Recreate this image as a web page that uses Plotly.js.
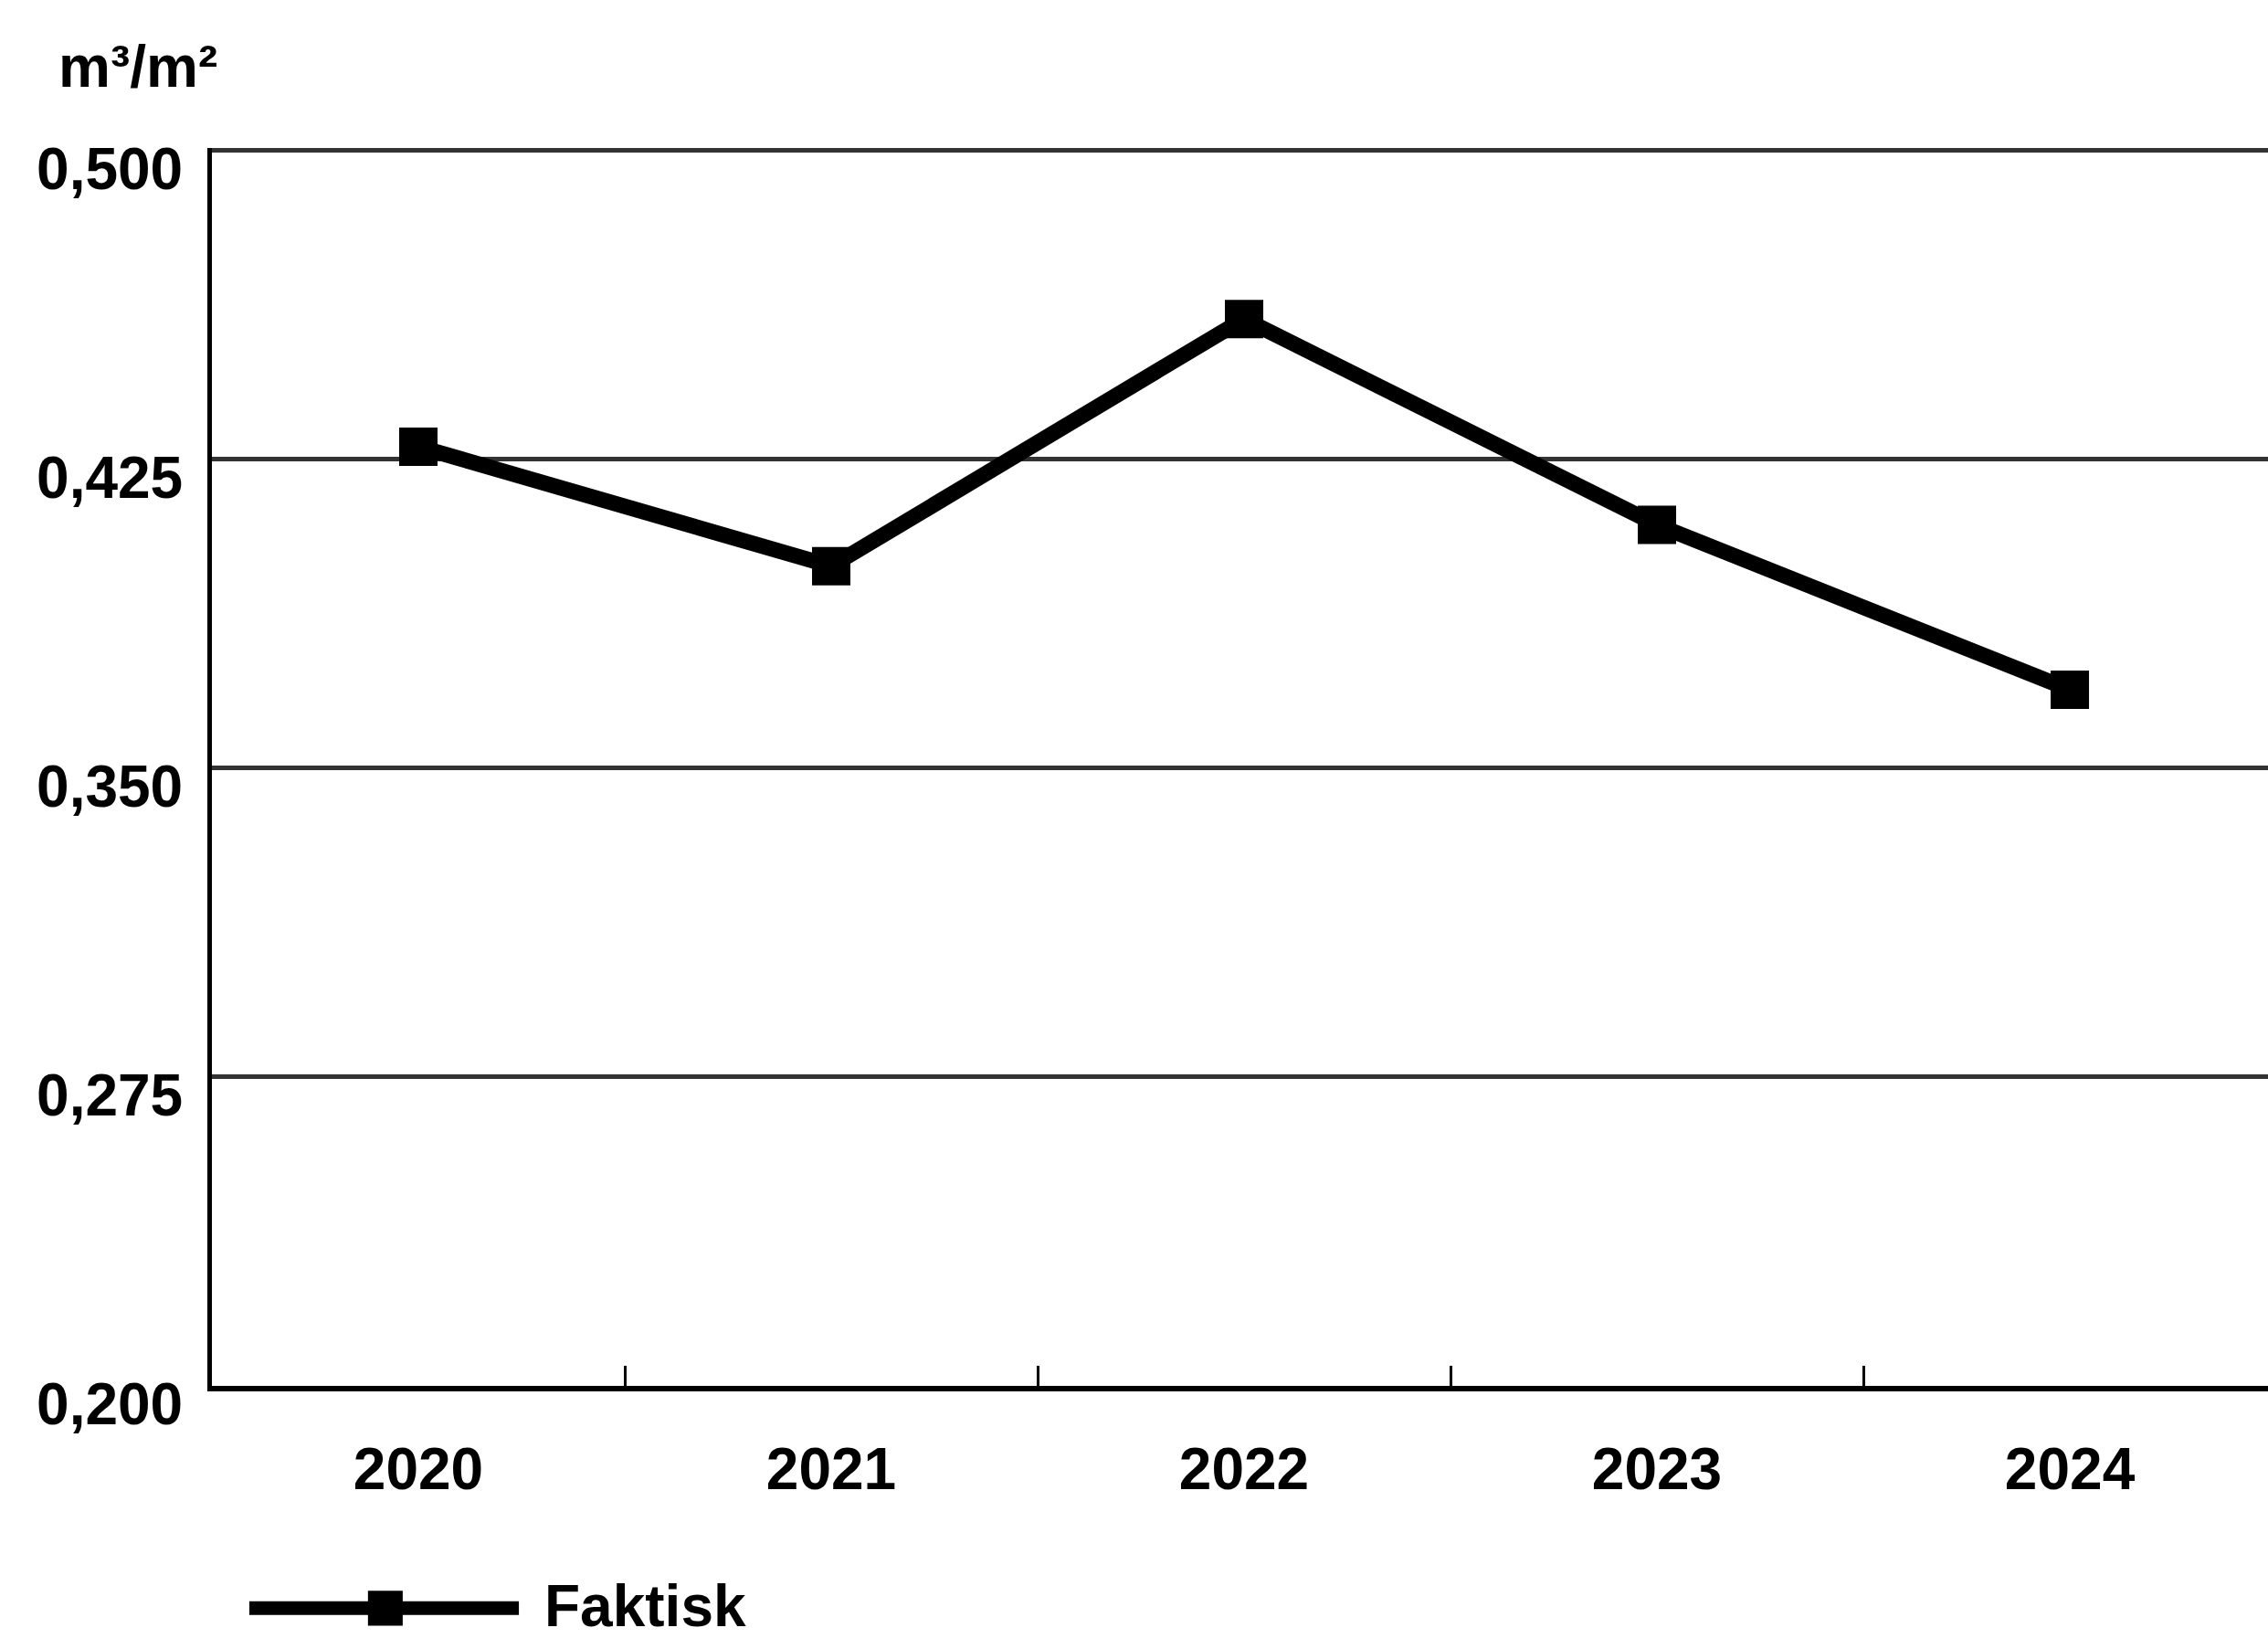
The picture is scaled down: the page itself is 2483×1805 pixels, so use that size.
<!DOCTYPE html>
<html>
<head>
<meta charset="utf-8">
<script src="https://cdn.plot.ly/plotly-3.0.1.min.js"></script>
<style>
  html, body { margin: 0; padding: 0; background: #ffffff; }
  #chart { width: 2483px; height: 1805px; }
</style>
</head>
<body>
<div id="chart"></div>
<script>
// Water use per square metre, actual values by year
const years = ['2020', '2021', '2022', '2023', '2024'];
const faktisk = [0.428, 0.399, 0.459, 0.409, 0.369];
const seriesName = 'Faktisk';
const unitLabel = 'm³/m²';
const yTickVals = [0.2, 0.275, 0.35, 0.425, 0.5];

const FONT = 'Liberation Sans, Arial, sans-serif';
const TXT = { family: FONT, size: 64, color: '#000000', weight: 'bold' };

const trace = {
  type: 'scatter',
  mode: 'lines+markers',
  name: seriesName,
  x: years,
  y: faktisk,
  line: { color: '#000000', width: 17 },
  marker: { symbol: 'square', size: 42, color: '#000000' },
  cliponaxis: false,
  showlegend: false
};

// Legend key drawn below the plot: a thick line with a square marker, then the series name
const keyY = -0.1796;
const shapes = [
  {
    type: 'line', xref: 'paper', yref: 'paper',
    x0: 0.0182, x1: 0.1493, y0: keyY, y1: keyY,
    line: { color: '#000000', width: 15 }
  },
  {
    type: 'rect', xref: 'paper', yref: 'paper',
    x0: 0.0759, x1: 0.0928, y0: -0.1655, y1: -0.1937,
    fillcolor: '#000000', line: { width: 0 }
  }
];

const layout = {
  width: 2483,
  height: 1805,
  margin: { l: 232, r: 0, t: 162, b: 288 },
  paper_bgcolor: '#ffffff',
  plot_bgcolor: '#ffffff',
  separators: ',.',
  font: TXT,
  showlegend: false,
  xaxis: {
    type: 'category',
    range: [-0.5, 4.48],
    showline: true,
    linecolor: '#000000',
    linewidth: 6,
    showgrid: false,
    zeroline: false,
    ticks: 'inside',
    tickson: 'boundaries',
    ticklen: 22,
    tickwidth: 3,
    tickcolor: '#000000',
    ticklabelstandoff: 30,
    tickfont: TXT,
    fixedrange: true
  },
  yaxis: {
    // a hair of headroom so the 0,500 gridline is kept at the top edge
    range: [0.2, 0.5005],
    tickmode: 'array',
    tickvals: yTickVals,
    tickformat: '.3f',
    showline: true,
    linecolor: '#000000',
    linewidth: 5,
    showgrid: true,
    gridcolor: '#333333',
    gridwidth: 5,
    zeroline: false,
    ticks: '',
    ticklabelstandoff: 14,
    ticklabelshift: 20,
    tickfont: TXT,
    fixedrange: true
  },
  shapes: shapes,
  annotations: [
    {
      text: unitLabel,
      xref: 'paper', yref: 'paper',
      x: -0.0755, xanchor: 'left',
      y: 1.066, yanchor: 'middle',
      showarrow: false,
      font: TXT
    },
    {
      text: seriesName,
      xref: 'paper', yref: 'paper',
      x: 0.1608, xanchor: 'left',
      y: keyY + 0.002, yanchor: 'middle',
      showarrow: false,
      font: TXT
    }
  ]
};

Plotly.newPlot('chart', [trace], layout, { staticPlot: true, displayModeBar: false });
</script>
</body>
</html>
